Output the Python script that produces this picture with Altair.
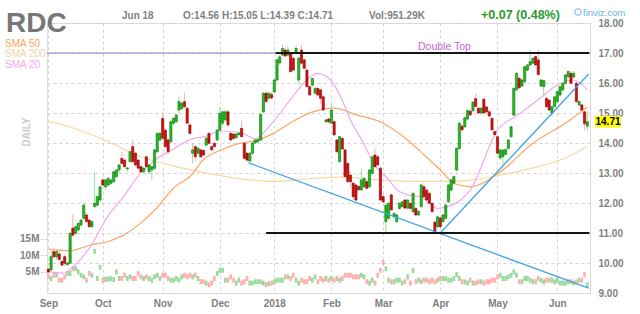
import altair as alt
import pandas as pd

FONT = "Liberation Sans"

# Daily candles for RDC, one entry per trading day from Sep 1 2017 to Jun 18 2018
opens = [
    9.80, 9.77, 10.38, 10.21, 10.30, 10.05, 10.21, 9.95, 9.99, 11.16,
    10.99, 11.10, 11.27, 11.49, 11.60, 11.43, 11.21, 11.88, 11.93, 12.10,
    12.77, 12.54, 12.60, 12.66, 12.71, 12.88, 13.10, 13.49, 13.43, 13.14,
    13.38, 13.88, 13.66, 13.43, 13.21, 13.04, 13.54, 13.04, 13.10, 13.16,
    13.71, 14.10, 14.82, 14.43, 14.10, 14.04, 14.66, 14.71, 15.10, 15.15,
    15.38, 15.16, 14.60, 13.66, 13.88, 13.66, 13.77, 13.75, 13.93, 14.32,
    13.88, 13.99, 14.10, 14.43, 14.66, 14.77, 15.04, 14.32, 14.30, 14.18,
    14.28, 14.49, 13.99, 13.66, 13.40, 13.66, 14.00, 14.05, 14.10, 15.04,
    15.66, 15.49, 15.62, 15.70, 16.10, 16.67, 16.93, 17.10, 16.93, 16.99,
    16.82, 17.04, 16.10, 17.10, 16.77, 16.43, 15.88, 15.93, 15.66, 15.82,
    15.77, 15.54, 14.71, 14.80, 14.66, 14.71, 14.10, 13.38, 14.15, 13.77,
    13.32, 12.93, 12.66, 12.60, 12.55, 12.44, 12.54, 12.71, 12.54, 12.99,
    13.60, 13.54, 13.16, 12.21, 11.38, 11.49, 12.27, 11.54, 11.38, 11.82,
    11.88, 12.10, 11.83, 11.99, 11.71, 11.82, 11.60, 11.88, 12.54, 12.43,
    12.32, 11.99, 11.36, 11.21, 11.50, 11.38, 11.49, 12.04, 12.43, 12.66,
    13.10, 13.82, 14.56, 14.54, 14.80, 15.06, 15.08, 15.48, 15.16, 15.00,
    15.46, 15.20, 15.04, 14.82, 14.38, 14.21, 13.50, 13.55, 13.62, 13.82,
    14.21, 14.93, 15.77, 16.16, 15.90, 16.04, 16.43, 16.60, 16.66, 16.88,
    16.77, 15.90, 15.88, 15.49, 15.43, 15.00, 15.22, 15.38, 15.60, 15.77,
    15.99, 16.21, 16.32, 16.20, 15.99, 15.27, 15.27, 15.04, 14.56,
]
highs = [
    9.84, 10.45, 10.49, 10.45, 10.40, 10.10, 10.28, 10.05, 11.02, 11.63,
    11.26, 11.36, 11.48, 12.00, 11.66, 11.48, 11.42, 13.04, 12.26, 12.58,
    12.84, 12.80, 12.86, 12.82, 13.08, 13.14, 13.30, 13.71, 13.46, 13.20,
    13.76, 14.12, 13.70, 13.46, 13.26, 13.20, 13.58, 13.30, 13.24, 13.80,
    14.36, 14.38, 15.04, 14.48, 14.16, 14.75, 14.86, 14.98, 15.55, 15.40,
    15.68, 15.20, 14.66, 13.99, 13.92, 13.88, 13.82, 13.80, 14.22, 14.36,
    13.92, 14.02, 14.46, 15.20, 15.08, 15.10, 15.10, 14.38, 14.34, 14.34,
    14.38, 14.77, 14.05, 13.70, 13.70, 14.02, 14.14, 14.16, 14.98, 15.70,
    15.72, 15.70, 15.70, 16.15, 16.80, 16.95, 17.27, 17.20, 17.22, 17.05,
    16.90, 17.27, 16.88, 17.27, 16.82, 16.48, 15.92, 16.18, 15.86, 15.86,
    15.80, 15.58, 14.82, 14.84, 15.32, 14.76, 14.15, 14.25, 14.20, 13.80,
    13.36, 13.04, 12.70, 12.64, 12.60, 13.16, 12.86, 12.76, 13.14, 13.58,
    13.82, 13.58, 13.20, 12.30, 11.95, 12.02, 12.32, 11.68, 11.64, 12.02,
    12.08, 12.14, 12.13, 12.02, 12.36, 11.86, 11.76, 12.64, 12.68, 12.48,
    12.36, 12.02, 11.40, 11.56, 11.54, 11.64, 11.96, 12.64, 12.80, 12.92,
    13.86, 14.70, 14.62, 14.88, 15.12, 15.14, 15.40, 15.66, 15.22, 15.20,
    15.52, 15.26, 15.10, 14.86, 14.44, 14.26, 13.80, 13.80, 13.80, 14.12,
    14.56, 15.86, 16.36, 16.24, 16.14, 16.56, 16.64, 17.10, 16.86, 16.92,
    17.10, 16.14, 16.12, 15.55, 15.48, 15.24, 15.56, 15.74, 15.90, 16.02,
    16.30, 16.42, 16.40, 16.40, 16.05, 15.42, 15.30, 15.08, 15.05,
]
lows = [
    9.62, 9.72, 10.15, 10.12, 10.08, 9.88, 9.90, 9.90, 9.96, 10.85,
    10.92, 11.05, 11.20, 11.44, 11.34, 11.18, 11.15, 11.82, 11.88, 12.05,
    12.55, 12.45, 12.52, 12.60, 12.68, 12.84, 13.00, 13.28, 13.18, 13.04,
    13.34, 13.34, 13.22, 13.12, 12.98, 12.98, 13.16, 12.95, 12.77, 13.10,
    13.66, 14.05, 14.12, 13.84, 13.62, 13.98, 14.60, 14.66, 15.00, 15.08,
    15.15, 14.62, 14.28, 13.32, 13.38, 13.60, 13.50, 13.56, 13.88, 13.96,
    13.74, 13.84, 14.05, 14.40, 14.60, 14.72, 14.55, 14.05, 14.10, 14.12,
    14.22, 14.18, 13.45, 13.38, 13.34, 13.60, 13.96, 14.00, 14.06, 15.00,
    15.34, 15.44, 15.46, 15.66, 16.05, 16.60, 16.88, 16.85, 16.88, 16.35,
    16.40, 17.00, 15.93, 16.62, 16.46, 15.84, 15.56, 15.88, 15.62, 15.56,
    15.32, 15.06, 14.66, 14.64, 14.62, 14.24, 13.66, 13.34, 13.76, 12.84,
    12.68, 12.54, 12.10, 12.06, 12.40, 12.40, 12.50, 12.46, 12.50, 12.95,
    13.18, 13.24, 12.06, 11.98, 10.99, 11.44, 11.74, 11.50, 11.32, 11.78,
    11.84, 11.80, 11.80, 11.79, 11.66, 11.56, 11.54, 11.84, 12.18, 12.06,
    11.96, 11.68, 10.94, 11.16, 11.16, 11.34, 11.45, 12.00, 12.40, 12.60,
    13.05, 13.78, 14.38, 14.50, 14.74, 14.90, 15.02, 15.18, 14.96, 14.94,
    14.96, 15.00, 14.86, 14.40, 14.24, 13.62, 13.44, 13.28, 13.58, 13.78,
    14.18, 14.90, 15.72, 15.80, 15.86, 16.00, 16.40, 16.56, 16.62, 16.56,
    16.24, 15.86, 15.55, 15.18, 15.08, 14.88, 15.18, 15.34, 15.55, 15.72,
    15.95, 16.16, 15.96, 16.15, 15.34, 15.22, 15.06, 14.42, 14.39,
]
closes = [
    9.70, 10.21, 10.21, 10.38, 10.12, 9.93, 9.99, 10.00, 10.99, 10.93,
    11.21, 11.32, 11.43, 11.93, 11.38, 11.21, 11.38, 11.99, 12.21, 12.54,
    12.60, 12.77, 12.82, 12.77, 13.04, 13.10, 13.27, 13.32, 13.21, 13.17,
    13.71, 13.38, 13.27, 13.16, 13.04, 13.16, 13.21, 13.27, 13.21, 13.77,
    14.32, 14.32, 14.16, 13.88, 13.71, 14.71, 14.82, 14.93, 15.38, 15.32,
    15.21, 14.66, 14.32, 13.77, 13.54, 13.82, 13.54, 13.60, 14.16, 13.99,
    13.77, 13.88, 14.43, 14.99, 15.04, 15.04, 14.60, 14.10, 14.15, 14.30,
    14.33, 14.21, 13.49, 13.43, 13.66, 14.00, 14.10, 14.12, 14.95, 15.66,
    15.38, 15.66, 15.50, 16.10, 16.77, 16.87, 17.15, 16.90, 17.10, 16.38,
    16.43, 17.15, 16.83, 16.66, 16.49, 15.88, 15.60, 16.15, 15.82, 15.60,
    15.49, 15.10, 14.77, 14.70, 15.10, 14.27, 13.71, 14.21, 13.80, 12.88,
    12.71, 12.71, 12.21, 12.10, 12.44, 12.77, 12.82, 12.49, 13.10, 13.54,
    13.21, 13.27, 12.10, 12.04, 11.93, 11.99, 11.77, 11.65, 11.60, 11.99,
    12.04, 11.83, 12.10, 11.82, 12.32, 11.60, 11.72, 12.60, 12.21, 12.10,
    11.99, 11.71, 11.00, 11.54, 11.21, 11.60, 11.93, 12.60, 12.77, 12.88,
    13.82, 14.66, 14.44, 14.84, 15.08, 14.94, 15.36, 15.22, 15.00, 15.16,
    15.00, 15.04, 14.90, 14.44, 14.28, 13.66, 13.77, 13.76, 13.78, 14.10,
    14.54, 15.82, 16.32, 15.84, 16.10, 16.54, 16.60, 16.71, 16.82, 16.60,
    16.28, 16.10, 16.08, 15.21, 15.10, 15.21, 15.54, 15.71, 15.88, 15.99,
    16.27, 16.38, 15.99, 16.32, 15.38, 15.38, 15.10, 14.64, 14.71,
]
# Daily volume, millions of shares
volumes = [
    3.4, 2.9, 3.9, 3.9, 2.4, 2.4, 3.4, 4.4, 4.4, 5.9,
    5.9, 4.9, 3.9, 3.4, 2.4, 4.4, 3.9, 11.2, 2.9, 6.3,
    2.4, 2.6, 2.8, 2.8, 2.6, 4.9, 2.9, 2.9, 3.9, 2.9,
    3.4, 2.9, 2.9, 4.4, 3.4, 2.9, 3.4, 2.9, 2.4, 3.4,
    3.9, 2.9, 3.9, 3.9, 2.9, 2.4, 2.4, 2.9, 2.4, 3.4,
    3.9, 3.4, 3.9, 3.4, 3.9, 2.9, 1.9, 1.9, 1.5, 1.0,
    1.5, 2.9, 4.4, 5.4, 5.4, 2.4, 2.4, 3.4, 2.4, 1.5,
    2.4, 1.5, 1.9, 2.9, 1.5, 1.5, 1.9, 1.9, 1.9, 1.5,
    1.0, 1.3, 1.5, 1.9, 2.4, 2.4, 2.4, 3.4, 3.4, 2.9,
    3.9, 2.4, 1.5, 2.4, 1.9, 1.9, 2.9, 2.4, 3.4, 1.9,
    2.9, 2.4, 2.9, 2.4, 2.9, 2.4, 2.9, 2.4, 2.9, 3.9,
    3.9, 3.9, 3.4, 3.4, 3.4, 3.9, 3.4, 1.9, 1.5, 2.4,
    1.5, 3.9, 5.4, 7.8, 5.9, 2.4, 1.9, 1.9, 2.4, 2.4,
    1.5, 1.9, 3.4, 1.5, 5.4, 1.9, 2.4, 1.9, 2.4, 2.4,
    1.9, 2.4, 1.9, 2.4, 2.9, 2.9, 2.9, 2.4, 2.4, 2.9,
    4.1, 2.9, 1.9, 1.9, 1.5, 2.4, 1.5, 1.5, 1.9, 1.9,
    1.5, 1.9, 1.9, 2.4, 2.4, 3.4, 3.9, 2.9, 2.9, 3.4,
    3.9, 4.9, 3.9, 1.9, 1.9, 2.9, 2.9, 2.4, 1.9, 1.9,
    2.9, 2.4, 1.9, 2.4, 2.4, 2.4, 1.9, 2.4, 1.5, 1.5,
    1.5, 1.9, 1.9, 1.5, 1.9, 2.4, 2.4, 4.1, 0.95129,
]

# Moving averages (trading-day index, price)
sma20_idx = [0, 5.5, 9.2, 15.4, 21.7, 27.6, 33.8, 40, 46, 52.2, 58.5, 63.2, 70.6, 76,
             81.6, 87.9, 93.8, 98.9, 103.7, 107.4, 111, 115.8, 119.5, 124.6, 128.3,
             132, 136.8, 143, 146.7, 151.5, 155, 165, 172.4, 179.8, 188.2, 193, 198]
sma20_val = [9.71, 9.66, 9.88, 10.54, 11.54, 12.21, 12.99, 13.49, 13.80, 14.12, 14.24,
             14.40, 14.35, 14.15, 14.60, 15.32, 15.99, 16.32, 16.10, 15.54, 14.77, 13.99,
             13.32, 12.82, 12.43, 12.27, 12.21, 11.82, 11.88, 12.10, 12.43, 14.43, 14.93,
             15.43, 15.99, 16.10, 15.77]
sma50_idx = [0, 8, 15.4, 21.7, 27.6, 33.8, 40, 46, 52.2, 57, 63, 69.5, 77, 82.7, 88,
             95.2, 104.8, 113.6, 123, 132, 139.3, 144, 149, 155, 166, 178, 190.8, 198]
sma50_val = [10.46, 10.41, 10.60, 10.71, 10.93, 11.32, 11.85, 12.50, 12.90, 13.45, 13.75,
             13.97, 14.10, 14.32, 14.62, 14.97, 15.16, 14.93, 14.66, 14.10, 13.50, 13.10,
             12.66, 12.54, 13.04, 13.99, 14.71, 15.20]
sma200_idx = [0, 9.5, 22, 34, 46, 58.5, 69.5, 83, 95, 107, 120, 134, 148, 156, 166,
              178, 190, 198]
sma200_val = [14.71, 14.49, 14.04, 13.54, 13.23, 12.99, 12.82, 12.72, 12.80, 12.86, 12.78,
              12.72, 12.72, 12.77, 12.93, 13.17, 13.50, 13.88]

# Pattern lines (trading-day index, price)
black_seg = ["top", "top", "bottom", "bottom"]
black_idx = [83.5, 198.8, 80, 198.8]
black_val = [17.0, 17.0, 11.0, 11.0]
blue_seg = ["falling", "falling", "rising", "rising"]
blue_idx = [73.5, 198.5, 144, 198.5]
blue_val = [13.34, 9.16, 11.0, 16.3]
prior_idx = [-0.5, 83.5]
prior_val = [17.0, 17.0]

month_idx = [0, 20, 42, 63, 83, 104, 123, 144, 165, 187]
month_lbl = ["Sep", "Oct", "Nov", "Dec", "2018", "Feb", "Mar", "Apr", "May", "Jun"]
price_ticks = [9, 10, 11, 12, 13, 14, 15, 16, 17, 18]
volume_ticks = [5_000_000, 10_000_000, 15_000_000]

n = len(closes)
assert len(opens) == len(highs) == len(lows) == len(volumes) == n

df = pd.DataFrame({
    "i": list(range(n)),
    "o": opens, "h": highs, "l": lows, "c": closes,
    "v": [v * 1e6 for v in volumes],
    "dir": ["up" if c >= o else "down" for o, c in zip(opens, closes)],
})

# page offset of the plot area
PL, PT, W, H = 47, 23, 543, 270

GRID = "#d4d4d4"
LABEL = "#808080"

label_expr = "".join(f"datum.value == {i} ? '{t}' : " for i, t in zip(month_idx, month_lbl)) + "''"
xscale = alt.Scale(domain=[-0.5, 199], nice=False, zero=False)
xaxis = alt.Axis(values=month_idx + [199], labelExpr=label_expr, grid=True, gridColor=GRID,
                 gridDash=[3, 3], domain=False, ticks=False, labelFlush=False,
                 labelOverlap=False, labelFontSize=10, labelFontWeight="bold",
                 labelColor=LABEL, labelPadding=5, title=None)
pscale = alt.Scale(domain=[9, 18], nice=False, zero=False)
paxis = alt.Axis(orient="right", values=price_ticks, format=".2f", grid=True, gridColor=GRID,
                 gridDash=[3, 3], domain=False, ticks=False, labelFontSize=10,
                 labelFontWeight="bold", labelColor=LABEL, labelPadding=8, title=None,
                 labelOverlap=False)


def xenc(field):
    return alt.X(field, type="quantitative", scale=xscale, axis=xaxis)


def yenc(field):
    return alt.Y(field, type="quantitative", scale=pscale, axis=paxis)


dir_dom = ["up", "down"]

volume = alt.Chart(df).transform_calculate(
    x0="datum.i - 0.48", x1="datum.i + 0.48"
).mark_bar().encode(
    x=xenc("x0"), x2="x1:Q",
    y=alt.Y("v:Q", scale=alt.Scale(domain=[0, 79.4e6], nice=False),
            axis=alt.Axis(orient="left", values=volume_ticks,
                          labelExpr="format(datum.value / 1e6, 'd') + 'M'",
                          grid=False, domain=False, ticks=True, tickSize=6,
                          tickColor="#c8c8c8", tickDash=[2, 2], labelPadding=2,
                          labelFontSize=10, labelFontWeight="bold", labelColor=LABEL,
                          title=None)),
    color=alt.Color("dir:N", scale=alt.Scale(domain=dir_dom, range=["#9cd99c", "#ffafaf"]),
                    legend=None),
)


def sma_line(idx, val, color):
    d = pd.DataFrame({"i": idx, "p": val})
    return alt.Chart(d).mark_line(color=color, strokeWidth=1.2, interpolate="monotone").encode(
        x=xenc("i"), y=yenc("p"))


sma200 = sma_line(sma200_idx, sma200_val, "#f8d9a4")
sma50 = sma_line(sma50_idx, sma50_val, "#ffa566")
sma20 = sma_line(sma20_idx, sma20_val, "#f2a9ee")

wicks = alt.Chart(df).mark_rule(strokeWidth=1).encode(
    x=xenc("i"), y=yenc("l"), y2="h:Q",
    color=alt.Color("dir:N", scale=alt.Scale(domain=dir_dom, range=["#0b6f0b", "#8a0000"]),
                    legend=None),
)
bodies = alt.Chart(df).transform_calculate(
    b0="datum.i - 0.4", b1="datum.i + 0.4"
).mark_bar(strokeWidth=0.6).encode(
    x=xenc("b0"), x2="b1:Q", y=yenc("o"), y2="c:Q",
    fill=alt.Fill("dir:N", scale=alt.Scale(domain=dir_dom, range=["#1fc21f", "#d40f0f"]),
                  legend=None),
    stroke=alt.Stroke("dir:N", scale=alt.Scale(domain=dir_dom, range=["#0b6f0b", "#8a0000"]),
                      legend=None),
)

prior = alt.Chart(pd.DataFrame({"i": prior_idx, "p": prior_val})).mark_line(
    color="#7b7bd2", strokeWidth=1).encode(x=xenc("i"), y=yenc("p"))
blue = alt.Chart(pd.DataFrame({"seg": blue_seg, "i": blue_idx, "p": blue_val})).mark_line(
    color="#3ea6e4", strokeWidth=1.3).encode(x=xenc("i"), y=yenc("p"), detail="seg:N")
black = alt.Chart(pd.DataFrame({"seg": black_seg, "i": black_idx, "p": black_val})).mark_line(
    color="#151515", strokeWidth=2.2).encode(x=xenc("i"), y=yenc("p"), detail="seg:N")

# last-price marker on the price axis
last_df = pd.DataFrame({"c": [closes[-1]], "t": [f"{closes[-1]:.2f}"]})
last_box = alt.Chart(last_df).transform_calculate(
    c0="datum.c - 0.195", c1="datum.c + 0.195"
).mark_rect(color="#ffff00").encode(
    x=alt.value(595 - PL), x2=alt.value(621 - PL), y=yenc("c0"), y2="c1:Q")
last_txt = alt.Chart(last_df).mark_text(
    font=FONT, fontSize=10, fontWeight="bold", color="#000000", align="center",
    baseline="middle", dy=0.5).encode(x=alt.value(608 - PL), y=yenc("c"), text="t:N")

price = alt.layer(sma200, sma50, sma20, wicks, bodies, prior, blue, black, last_box, last_txt)


def label(text, x, y, size, color, weight="normal", align="left", angle=0,
          baseline="alphabetic"):
    return alt.Chart(pd.DataFrame({"t": [text]})).mark_text(
        font=FONT, fontSize=size, fontWeight=weight, color=color, align=align,
        baseline=baseline, angle=angle).encode(
        x=alt.value(x - PL), y=alt.value(y - PT), text="t:N")


chg = closes[-1] - closes[-2]
pct = chg / closes[-2] * 100
texts = [
    label("RDC", 6, 32, 28, "#777777", "bold"),
    label("SMA 50", 5, 47, 10, "#ff9f5a"),
    label("SMA 200", 5, 57, 10, "#f2d5a4"),
    label("SMA 20", 5, 67.5, 10, "#f1a6ec"),
    label("Jun 18", 122, 18.5, 10, LABEL, "bold"),
    label(f"O:{opens[-1]:.2f} H:{highs[-1]:.2f} L:{lows[-1]:.2f} C:{closes[-1]:.2f}",
          183, 18.5, 10, LABEL, "bold"),
    label(f"Vol:{volumes[-1] * 1000:.2f}K", 369, 18.5, 10, LABEL, "bold"),
    label(f"{chg:+.2f} ({pct:.2f}%)", 481, 19, 12.5, "#2b9b2b", "bold"),
    label("finviz.com", 583, 16, 9.5, "#62b3e4"),
    label("Double Top", 418, 49.5, 10.5, "#cc5fd8"),
    label("DAILY", 27, 132, 10, "#cccccc", "bold", align="center", angle=270,
          baseline="middle"),
]
icon = alt.Chart(pd.DataFrame({"k": [0]})).mark_rect(
    fill="white", stroke="#62b3e4", strokeWidth=1, cornerRadius=2).encode(
    x=alt.value(575 - PL), x2=alt.value(581 - PL), y=alt.value(9 - PT), y2=alt.value(15 - PT))

chart = alt.layer(volume, price, icon, *texts).resolve_scale(y="independent").properties(
    width=W, height=H,
    padding={"left": PL, "top": PT, "right": 640 - PL - W, "bottom": 314 - PT - H},
    autosize=alt.AutoSizeParams(type="none"),
    background="white",
).configure_view(stroke=None).configure(font=FONT)

chart.save("out.html", embed_options={"renderer": "svg", "actions": False})
